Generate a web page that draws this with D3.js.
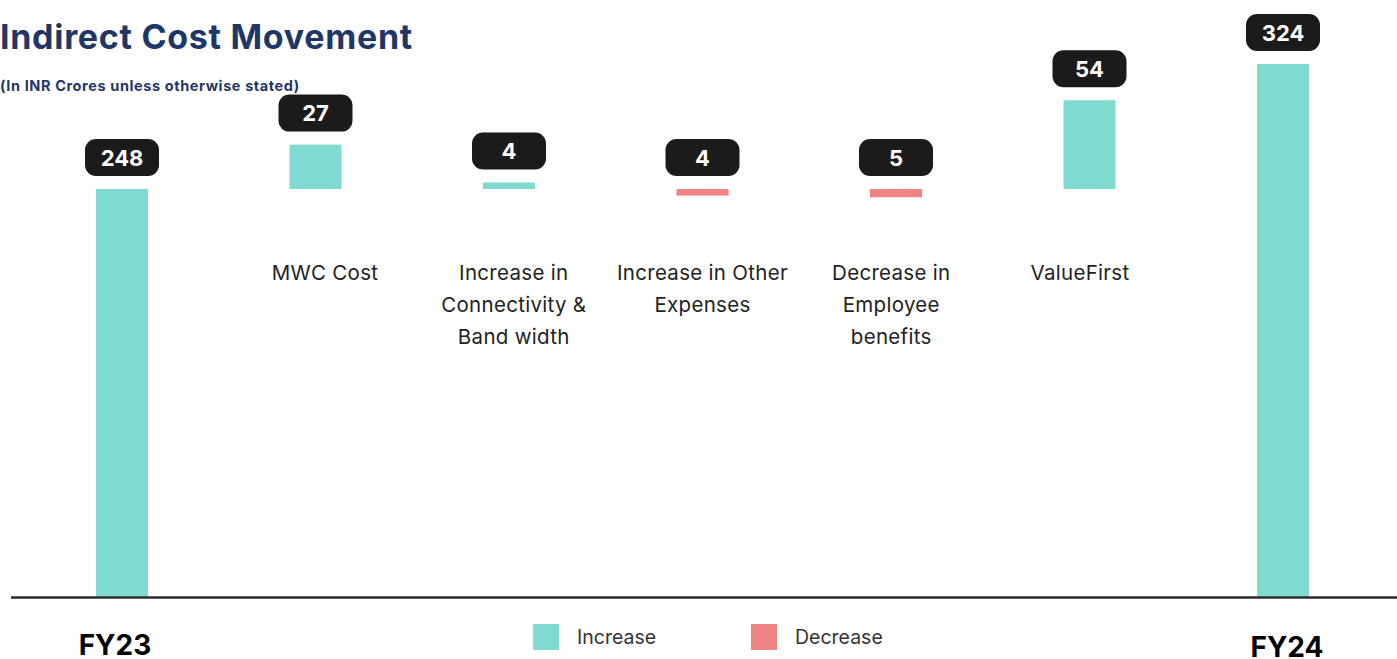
<!DOCTYPE html>
<html>
<head>
<meta charset="utf-8">
<script src="https://cdn.jsdelivr.net/npm/d3@7"></script>
<style>
  body { margin: 0; background: #fff; }
  svg { display: block; font-family: Inter, "Noto Sans", sans-serif; }
</style>
</head>
<body>
<svg id="chart" width="1397" height="659"></svg>
<script>
// data
var categories = ["FY23", "MWC Cost", "Increase in Connectivity & Band width", "Increase in Other Expenses", "Decrease in Employee benefits", "ValueFirst", "FY24"];
var labelLines = [["MWC Cost"], ["Increase in", "Connectivity &", "Band width"], ["Increase in Other", "Expenses"], ["Decrease in", "Employee", "benefits"], ["ValueFirst"]];
var values = [248, 27, 4, 4, 5, 54, 324];
var kinds = ["total", "increase", "increase", "decrease", "decrease", "increase", "total"];
var legendItems = ["Increase", "Decrease"];

var colors = {total: "#80dad0", increase: "#80dad0", decrease: "#ef8282"};

var svg = d3.select("#chart"),
    width = 1397,
    baseY = 597;

var x = d3.scalePoint()
    .domain(categories)
    .range([122, 1283]);

// the text under the delta bars is spread a little differently than the bars
var xLabel = d3.scalePoint()
    .domain(categories.slice(1, 6))
    .range([325, 1080]);

var y = d3.scaleLinear()
    .domain([0, 324])
    .range([baseY, 64]);

var barW = 52,
    start = values[0]; // delta bars hang off the opening level

function barTop(d, i) {
    if (kinds[i] == "total") return y(d);
    if (kinds[i] == "increase") return y(start + d);
    return y(start);
}
function barBottom(d, i) {
    if (kinds[i] == "total") return y(0);
    if (kinds[i] == "increase") return y(start);
    return y(start - d);
}

// title
svg.append("text")
    .attr("x", 0).attr("y", 49)
    .attr("fill", "#1f3767")
    .attr("font-size", 34).attr("font-weight", 700)
    .attr("letter-spacing", 0.7)
    .text("Indirect Cost Movement");

svg.append("text")
    .attr("x", 0).attr("y", 91)
    .attr("fill", "#1f3767")
    .attr("font-size", 14.5).attr("font-weight", 700)
    .attr("letter-spacing", 0.6)
    .text("(In INR Crores unless otherwise stated)");

// bars
svg.append("g").selectAll("rect")
    .data(values)
    .enter()
    .append("rect")
    .attr("x", function (d, i) { return x(categories[i]) - barW / 2; })
    .attr("y", barTop)
    .attr("width", barW)
    .attr("height", function (d, i) { return barBottom(d, i) - barTop(d, i); })
    .attr("fill", function (d, i) { return colors[kinds[i]]; });

// baseline
svg.append("line")
    .attr("x1", 11).attr("x2", width)
    .attr("y1", baseY + 0.5).attr("y2", baseY + 0.5)
    .attr("stroke", "#2b2b2b").attr("stroke-width", 2.5);

// value badges
var badges = svg.append("g").selectAll("g")
    .data(values)
    .enter()
    .append("g")
    .attr("transform", function (d, i) {
        return "translate(" + x(categories[i]) + "," + (barTop(d, i) - 13 - 37) + ")";
    });

badges.append("rect")
    .attr("x", -37).attr("y", 0)
    .attr("width", 74).attr("height", 37)
    .attr("rx", 11)
    .attr("fill", "#1b1b1b");

badges.append("text")
    .attr("x", 0).attr("y", 26.5)
    .attr("text-anchor", "middle")
    .attr("fill", "#fff")
    .attr("font-size", 22).attr("font-weight", 700)
    .text(function (d) { return d; });

// category labels
var labels = svg.append("g").selectAll("text")
    .data(labelLines)
    .enter()
    .append("text")
    .attr("text-anchor", "middle")
    .attr("fill", "#222")
    .attr("font-size", 20.5)
    .attr("letter-spacing", 0.3)
    .attr("transform", function (d, i) {
        return "translate(" + xLabel(categories[i + 1]) + ",280)";
    });

labels.selectAll("tspan")
    .data(function (d) { return d; })
    .enter()
    .append("tspan")
    .attr("x", 0)
    .attr("y", function (d, j) { return j * 32; })
    .text(function (d) { return d; });

// period labels under the axis
svg.append("g").selectAll("text")
    .data([categories[0], categories[categories.length - 1]])
    .enter()
    .append("text")
    .attr("x", function (d) { return d == "FY24" ? x(d) + 4 : x(d) - 7; })
    .attr("y", function (d) { return d == "FY24" ? 657 : 655; })
    .attr("text-anchor", "middle")
    .attr("fill", "#000")
    .attr("font-size", 28).attr("font-weight", 700)
    .text(function (d) { return d; });

// legend
var legend = svg.append("g").selectAll("g")
    .data(legendItems)
    .enter()
    .append("g")
    .attr("transform", function (d, i) { return "translate(" + (533 + i * 218) + ",624)"; });

legend.append("rect")
    .attr("width", 26).attr("height", 26)
    .attr("fill", function (d) { return d == "Increase" ? colors.increase : colors.decrease; });

legend.append("text")
    .attr("x", 44).attr("y", 20)
    .attr("fill", "#333")
    .attr("font-size", 19.5)
    .text(function (d) { return d; });
</script>
</body>
</html>
